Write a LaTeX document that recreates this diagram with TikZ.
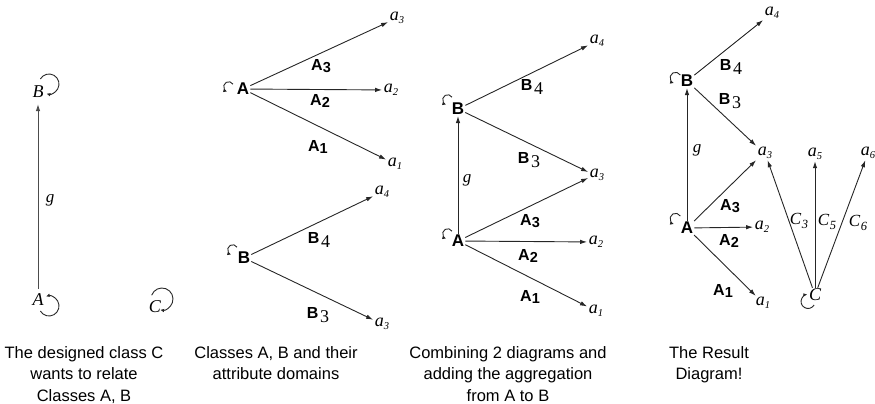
\documentclass[tikz,border=0pt]{standalone}
\usepackage{fontspec}
\setmainfont{Liberation Sans}
\newfontfamily\tmsfont{Liberation Serif}
\usetikzlibrary{arrows.meta}
\newcommand{\attr}[1]{a\kern0.2pt\raisebox{-2.5pt}{\fontsize{10.5}{10.5}\selectfont #1}}
\newcommand{\alab}[1]{A\raisebox{-1.5pt}{\fontsize{14.5}{15}\selectfont #1}}
\newcommand{\blab}[1]{B\kern1.5pt\raisebox{-4pt}{\mdseries\tmsfont\fontsize{18}{18}\selectfont #1}}
\newcommand{\clab}[1]{C\kern0.5pt\raisebox{-3.5pt}{\fontsize{12.5}{12.5}\selectfont #1}}
\tikzset{
  nd/.style={inner sep=1pt, font=\bfseries\fontsize{17}{17}\selectfont},
  ndit/.style={inner sep=1pt, font=\tmsfont\itshape\fontsize{18}{18}\selectfont},
  lab/.style={inner sep=0pt, font=\bfseries\fontsize{16}{16}\selectfont},
  labit/.style={inner sep=0pt, font=\tmsfont\itshape\fontsize{17}{17}\selectfont},
  att/.style={inner sep=1.5pt, font=\tmsfont\itshape\fontsize{18}{18}\selectfont},
  arr/.style={draw=black!85, line width=0.9pt, -{Latex[length=7pt,width=4.5pt]}},
  lp/.style={draw=black!85, line width=0.9pt, -{Latex[length=4pt,width=3.5pt]}},
  captxt/.style={align=center, font=\fontsize{16.5}{21.5}\selectfont, inner sep=0pt, anchor=north},
}
\begin{document}
\begin{tikzpicture}[x=1pt,y=1pt]
\useasboundingbox (0,0) rectangle (875,-404);
% ---------- Panel 1
\node[ndit] (B1) at (38,-92) {B};
\node[ndit] (A1) at (38,-300) {A};
\node[ndit] (C1) at (155,-307) {C};
\node[labit] (g1) at (50,-200) {g};
\draw[arr, draw=black!70, shorten <=4pt, shorten >=5pt] (A1) -- (B1);
\draw[lp] (40.34,-79) arc[start angle=150, end angle=-105, radius=10];
\draw[lp] (40.34,-311) arc[start angle=-150, end angle=108, radius=10];
\draw[lp] (151.66,-295.24) arc[start angle=160, end angle=-100, radius=11];
% ---------- Panel 2
\node[nd] (A2) at (243,-89) {A};
\node[att] (a3b) at (397,-18) {\attr{3}};
\node[att] (a2b) at (391,-90) {\attr{2}};
\node[att] (a1b) at (395,-164) {\attr{1}};
\draw[arr] (A2) -- (a3b);
\draw[arr] (A2) -- (a2b);
\draw[arr] (A2) -- (a1b);
\node[lab] (lA3b) at (321,-66) {\alab{3}};
\node[lab] (lA2b) at (320,-101) {\alab{2}};
\node[lab] (lA1b) at (318,-147) {\alab{1}};
\draw[lp] (233.0,-84.2) arc[start angle=30, end angle=255, radius=5];
\node[nd] (B2) at (244,-258) {B};
\node[att] (a4b) at (382,-192) {\attr{4}};
\node[att] (a3c) at (382,-324) {\attr{3}};
\draw[arr] (B2) -- (a4b);
\draw[arr] (B2) -- (a3c);
\node[lab] (lB4b) at (319,-240) {\blab{4}};
\node[lab] (lB3b) at (318,-315) {\blab{3}};
\draw[lp] (237.0,-247.2) arc[start angle=30, end angle=255, radius=5];
% ---------- Panel 3
\node[nd] (B3n) at (458,-109) {B};
\node[nd] (A3n) at (458,-241) {A};
\node[att] (a4c) at (597,-41) {\attr{4}};
\node[att] (a3d) at (597,-175) {\attr{3}};
\node[att] (a2c) at (596,-242) {\attr{2}};
\node[att] (a1c) at (596,-311) {\attr{1}};
\draw[arr] (A3n) -- (B3n);
\draw[arr] (B3n) -- (a4c);
\draw[arr] (B3n) -- ([yshift=3pt]a3d.west);
\draw[arr] (A3n) -- ([yshift=-3pt]a3d.west);
\draw[arr] (A3n) -- (a2c);
\draw[arr] (A3n) -- (a1c);
\node[lab] (lB4c) at (532,-87) {\blab{4}};
\node[lab] (lB3c) at (529,-160) {\blab{3}};
\node[labit] (g3) at (467,-180) {g};
\node[lab] (lA3c) at (530,-221) {\alab{3}};
\node[lab] (lA2c) at (528,-256) {\alab{2}};
\node[lab] (lA1c) at (530,-297) {\alab{1}};
\draw[lp] (452.0,-97.2) arc[start angle=30, end angle=255, radius=5];
\draw[lp] (452.0,-231.2) arc[start angle=30, end angle=255, radius=5];
% ---------- Panel 4
\node[nd] (B4n) at (687,-81) {B};
\node[nd] (A4n) at (687,-228) {A};
\node[ndit] (C4n) at (815,-295) {C};
\node[att] (a4d) at (772,-13) {\attr{4}};
\node[att] (a3e) at (765,-153) {\attr{3}};
\node[att] (a2d) at (762,-227) {\attr{2}};
\node[att] (a1d) at (763,-303) {\attr{1}};
\node[att] (a5) at (815,-154) {\attr{5}};
\node[att] (a6) at (868,-153) {\attr{6}};
\draw[arr] (A4n) -- (B4n);
\draw[arr] (B4n) -- (a4d);
\draw[arr] (B4n) -- (a3e.north west);
\draw[arr] (A4n) -- (a3e.south west);
\draw[arr] (A4n) -- (a2d);
\draw[arr] (A4n) -- (a1d);
\draw[arr] (C4n) -- (a3e);
\draw[arr] (C4n) -- (a5);
\draw[arr] (C4n) -- (a6);
\node[lab] (lB4d) at (731,-67) {\blab{4}};
\node[lab] (lB3d) at (730,-101) {\blab{3}};
\node[labit] (g4) at (697,-150) {g};
\node[lab] (lA3d) at (730,-206) {\alab{3}};
\node[lab] (lA2d) at (729,-241) {\alab{2}};
\node[lab] (lA1d) at (723,-291) {\alab{1}};
\node[labit] (lC3) at (799,-221) {\clab{3}};
\node[labit] (lC5) at (827,-222) {\clab{5}};
\node[labit] (lC6) at (858,-223) {\clab{6}};
\draw[lp] (680.3,-75.0) arc[start angle=30, end angle=255, radius=5.5];
\draw[lp] (680.3,-216.0) arc[start angle=30, end angle=255, radius=5.5];
\draw[lp] (814.1,-305.0) arc[start angle=-30, end angle=-265, radius=7];
% ---------- Captions
\node[captxt] (cap1) at (84,-346) {The designed class C\\wants to relate\\Classes A, B};
\node[captxt] (cap2) at (276,-346) {Classes A, B and their\\attribute domains};
\node[captxt] (cap3) at (508,-346) {Combining 2 diagrams and\\adding the aggregation\\from A to B};
\node[captxt] (cap4) at (709,-346) {The Result\\Diagram!};
\end{tikzpicture}
\end{document}
